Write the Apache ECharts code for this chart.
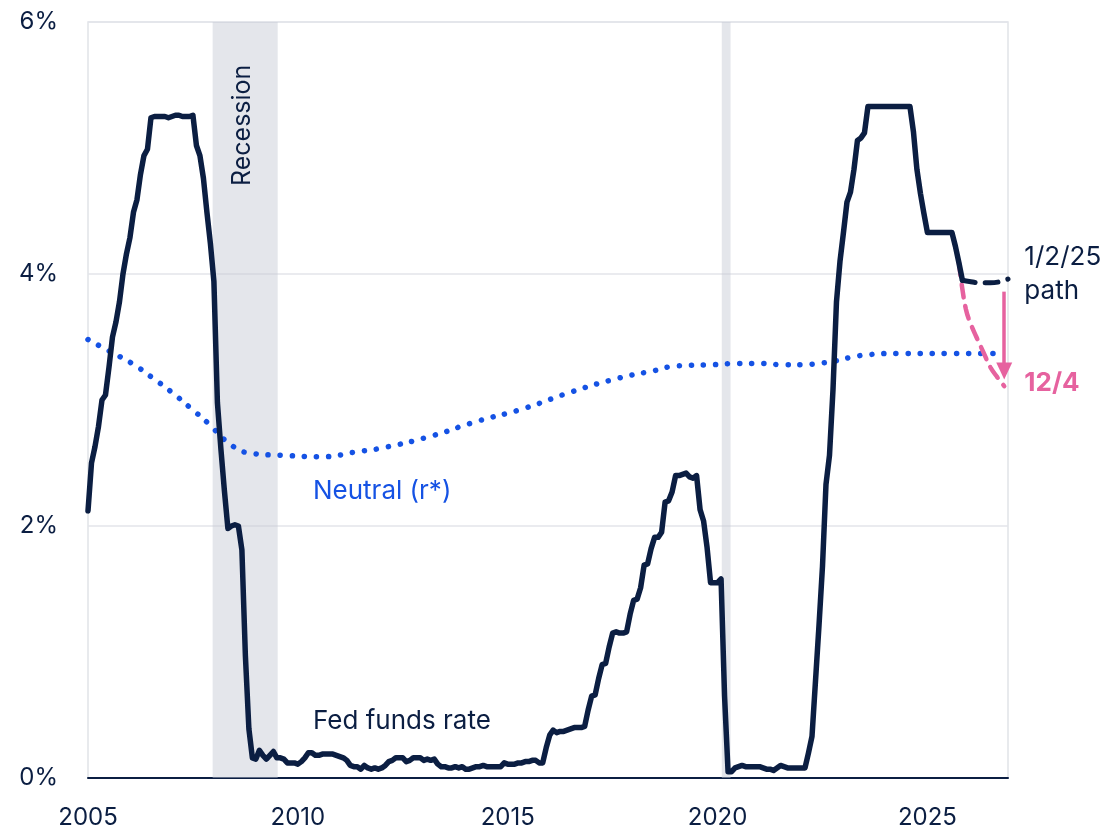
<!DOCTYPE html>
<html>
<head>
<meta charset="utf-8">
<script src="https://cdn.jsdelivr.net/npm/echarts@6/dist/echarts.min.js"></script>
<style>
  html, body { margin: 0; padding: 0; background: #ffffff; }
  #chart { width: 1107px; height: 833px; }
</style>
</head>
<body>
<div id="chart"></div>
<script>
// Effective federal funds rate, monthly averages starting January 2005 (%)
const FED_START_YEAR = 2005;
const fedFundsMonthly = [
  2.12, 2.50, 2.63, 2.79, 3.00, 3.04, 3.26, 3.50, 3.62, 3.78, 4.00, 4.16,
  4.29, 4.49, 4.59, 4.79, 4.94, 4.99, 5.24, 5.25, 5.25, 5.25, 5.25, 5.24,
  5.25, 5.26, 5.26, 5.25, 5.25, 5.25, 5.26, 5.02, 4.94, 4.76, 4.49, 4.24,
  3.94, 2.98, 2.61, 2.28, 1.98, 2.00, 2.01, 2.00, 1.81, 0.97, 0.39, 0.16,
  0.15, 0.22, 0.18, 0.15, 0.18, 0.21, 0.16, 0.16, 0.15, 0.12, 0.12, 0.12,
  0.11, 0.13, 0.16, 0.20, 0.20, 0.18, 0.18, 0.19, 0.19, 0.19, 0.19, 0.18,
  0.17, 0.16, 0.14, 0.10, 0.09, 0.09, 0.07, 0.10, 0.08, 0.07, 0.08, 0.07,
  0.08, 0.10, 0.13, 0.14, 0.16, 0.16, 0.16, 0.13, 0.14, 0.16, 0.16, 0.16,
  0.14, 0.15, 0.14, 0.15, 0.11, 0.09, 0.09, 0.08, 0.08, 0.09, 0.08, 0.09,
  0.07, 0.07, 0.08, 0.09, 0.09, 0.10, 0.09, 0.09, 0.09, 0.09, 0.09, 0.12,
  0.11, 0.11, 0.11, 0.12, 0.12, 0.13, 0.13, 0.14, 0.14, 0.12, 0.12, 0.24,
  0.34, 0.38, 0.36, 0.37, 0.37, 0.38, 0.39, 0.40, 0.40, 0.40, 0.41, 0.54,
  0.65, 0.66, 0.79, 0.90, 0.91, 1.04, 1.15, 1.16, 1.15, 1.15, 1.16, 1.30,
  1.41, 1.42, 1.51, 1.69, 1.70, 1.82, 1.91, 1.91, 1.95, 2.19, 2.20, 2.27,
  2.40, 2.40, 2.41, 2.42, 2.39, 2.38, 2.40, 2.13, 2.04, 1.83, 1.55, 1.55,
  1.55, 1.58, 0.65, 0.05, 0.05, 0.08, 0.09, 0.10, 0.09, 0.09, 0.09, 0.09,
  0.09, 0.08, 0.07, 0.07, 0.06, 0.08, 0.10, 0.09, 0.08, 0.08, 0.08, 0.08,
  0.08, 0.08, 0.20, 0.33, 0.77, 1.21, 1.68, 2.33, 2.56, 3.08, 3.78, 4.10,
  4.33, 4.57, 4.65, 4.83, 5.06, 5.08, 5.12, 5.33, 5.33, 5.33, 5.33, 5.33,
  5.33, 5.33, 5.33, 5.33, 5.33, 5.33, 5.33, 5.33, 5.13, 4.83, 4.64, 4.48,
  4.33, 4.33, 4.33, 4.33, 4.33, 4.33, 4.33, 4.33, 4.22, 4.09, 3.95
];

// Projected path as of 1/2/25 (year, %)
const pathJan2Years = [2025.833, 2026.0, 2026.25, 2026.5, 2026.75, 2026.92];
const pathJan2Rates = [3.95, 3.94, 3.93, 3.93, 3.94, 3.96];

// Projected path as of 12/4 (year, %)
const pathDec4Years = [2025.75, 2025.833, 2025.917, 2026.0, 2026.167, 2026.333, 2026.5, 2026.667, 2026.83];
const pathDec4Rates = [4.09, 3.88, 3.72, 3.63, 3.50, 3.38, 3.26, 3.18, 3.11];

// Neutral rate estimate r* (year, %)
const neutralYears = [2005.0, 2005.55, 2006.05, 2006.52, 2007.0, 2007.43, 2007.88, 2008.31, 2008.83,
  2009.69, 2010.57, 2011.43, 2012.02, 2013.14, 2014.26, 2015.36, 2016.48, 2017.6, 2018.45,
  2019.02, 2019.88, 2020.5, 2021.0, 2021.6, 2022.0, 2022.4, 2022.8, 2023.2, 2023.6, 2024.3, 2025.5, 2026.64];
const neutralRates = [3.48, 3.38, 3.29, 3.18, 3.06, 2.94, 2.81, 2.67, 2.58,
  2.56, 2.55, 2.59, 2.62, 2.71, 2.83, 2.93, 3.06, 3.17, 3.23,
  3.27, 3.28, 3.29, 3.29, 3.28, 3.28, 3.29, 3.31, 3.34, 3.36, 3.37, 3.37, 3.37];

// Recession periods (start year, end year)
const recessions = [[2007.97, 2009.52], [2020.10, 2020.31]];

// Arrow showing the shift between paths (year, from %, to %)
const shiftArrow = { year: 2026.83, from: 3.86, to: 3.23 };

const X_MIN = 2005, X_MAX = 2026.92;
const Y_TICKS = [0, 2, 4, 6];

const NAVY = '#0b1e42';
const BLUE = '#1552e4';
const PINK = '#e6629f';
const FONT = 'Inter, "Noto Sans", sans-serif';

const fedFundsData = fedFundsMonthly.map((v, i) => [FED_START_YEAR + i / 12, v]);
const pairUp = (xs, ys) => xs.map((x, i) => [x, ys[i]]);

const chart = echarts.init(document.getElementById('chart'), null, { renderer: 'canvas' });

chart.setOption({
  animation: false,
  backgroundColor: '#ffffff',
  grid: {
    left: 88, right: 99, top: 22, bottom: 55,
    show: true, borderColor: '#e1e3e8', borderWidth: 1.5, backgroundColor: 'transparent'
  },
  xAxis: {
    type: 'value', min: X_MIN, max: X_MAX, interval: 5,
    axisLine: { show: true, onZero: false, lineStyle: { color: NAVY, width: 2 } },
    axisTick: { show: false },
    splitLine: { show: false },
    axisLabel: {
      margin: 28, color: NAVY, fontFamily: FONT, fontSize: 24,
      formatter: v => (Math.abs(v % 5) < 1e-9 ? String(v) : '')
    }
  },
  yAxis: {
    type: 'value', min: Y_TICKS[0], max: Y_TICKS[Y_TICKS.length - 1], interval: 2,
    axisLine: { show: false },
    axisTick: { show: false },
    splitLine: { show: true, lineStyle: { color: '#e3e4ea', width: 1.5 } },
    axisLabel: {
      margin: 30, color: NAVY, fontFamily: FONT, fontSize: 24,
      formatter: v => v + '%'
    }
  },
  series: [
    {
      name: 'recessions', type: 'line', data: [], z: 1, silent: true,
      markArea: {
        silent: true,
        itemStyle: { color: 'rgba(196,200,212,0.46)' },
        data: recessions.map(r => [{ xAxis: r[0] }, { xAxis: r[1] }])
      }
    },
    {
      name: 'Neutral (r*)', type: 'line', z: 3,
      data: pairUp(neutralYears, neutralRates),
      smooth: 0.5, showSymbol: false,
      lineStyle: { color: BLUE, width: 5.5, type: [0.1, 12], cap: 'round' }
    },
    {
      name: '12/4', type: 'line', z: 4,
      data: pairUp(pathDec4Years, pathDec4Rates),
      smooth: 0.4, showSymbol: false,
      lineStyle: { color: PINK, width: 4.5, type: [13, 9], cap: 'round' },
      markLine: {
        silent: true, symbol: ['none', 'triangle'], symbolSize: [16, 17],
        label: { show: false },
        lineStyle: { color: PINK, width: 3.5, type: 'solid' },
        emphasis: { disabled: true },
        data: [[{ coord: [shiftArrow.year, shiftArrow.from] }, { coord: [shiftArrow.year, shiftArrow.to] }]]
      }
    },
    {
      name: '1/2/25 path', type: 'line', z: 5,
      data: pairUp(pathJan2Years, pathJan2Rates),
      smooth: 0.4, showSymbol: false,
      lineStyle: { color: NAVY, width: 5, type: [13, 10], cap: 'round' }
    },
    {
      name: 'Fed funds rate', type: 'line', z: 6,
      data: fedFundsData, showSymbol: false,
      lineStyle: { color: NAVY, width: 5.5, join: 'round', cap: 'round' }
    }
  ]
});

// Text annotations anchored to data coordinates
const px = (x, y) => chart.convertToPixel({ gridIndex: 0 }, [x, y]);
const label = (pos, text, color, opts) => Object.assign({
  type: 'text', x: pos[0], y: pos[1], z: 10,
  style: Object.assign({
    text: text, fill: color, font: '26px ' + FONT,
    textAlign: 'left', textVerticalAlign: 'middle'
  }, opts || {})
});

const recPos = px(2008.69, 5.18);
chart.setOption({
  graphic: [
    Object.assign(label(recPos, 'Recession', NAVY, { textAlign: 'center', font: '25px ' + FONT }), { rotation: Math.PI / 2 }),
    label(px(2010.36, 2.28), 'Neutral (r*)', BLUE),
    label(px(2010.36, 0.45), 'Fed funds rate', NAVY),
    label(px(2027.31, 4.13), '1/2/25', NAVY),
    label(px(2027.31, 3.86), 'path', NAVY),
    label(px(2027.31, 3.13), '12/4', PINK, { font: 'bold 26px ' + FONT })
  ]
});
</script>
</body>
</html>
